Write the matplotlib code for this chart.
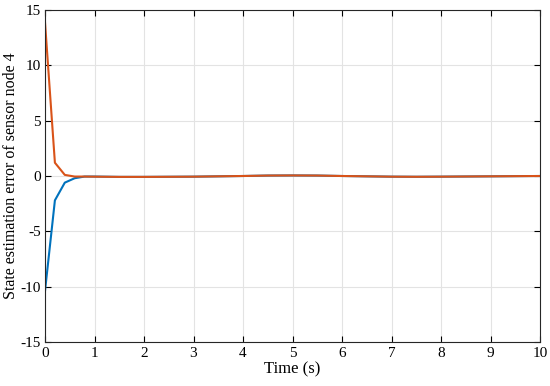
import numpy as np
import matplotlib
matplotlib.use("Agg")
import matplotlib.pyplot as plt

plt.rcParams['font.family'] = ['Liberation Serif', 'DejaVu Serif']
plt.rcParams['axes.unicode_minus'] = False

t = [0, 0.2, 0.4, 0.6, 0.8, 1.0, 1.5, 2, 3, 4, 4.5, 5, 5.5, 6, 7, 7.5, 8, 9, 10]
err_blue = [-10.4, -2.2, -0.6, -0.2, -0.05, -0.05, -0.08, -0.08, -0.06, 0.0, 0.04, 0.05, 0.04, 0.0, -0.06, -0.07, -0.06, -0.03, 0.0]
err_orange = [13.9, 1.2, 0.1, -0.05, -0.05, -0.06, -0.08, -0.08, -0.06, 0.0, 0.04, 0.05, 0.04, 0.0, -0.06, -0.07, -0.06, -0.03, 0.0]

fig = plt.figure(figsize=(5.5, 3.86), dpi=100)
ax = fig.add_axes([45/550, 1 - 342/386, 495/550, 332/386])
ax.plot(t, err_blue, color='#0072BD', lw=1.5)
ax.plot(t, err_orange, color='#D95319', lw=1.5)

ax.set_xlim(0, 10)
ax.set_ylim(-15, 15)
ax.set_xticks(range(0, 11))
ax.set_yticks(range(-15, 16, 5))
ax.grid(True, color='#e3e3e3', lw=0.8)
ax.tick_params(direction='in', top=True, right=True, labelsize=11, length=4)
ax.tick_params(axis='y', pad=3)
for s in ax.spines.values():
    s.set_color('#262626')
    s.set_linewidth(0.8)
ax.set_xlabel('Time (s)', fontsize=12, labelpad=1)
ax.set_ylabel('State estimation error of sensor node 4', fontsize=11.5, labelpad=1)

fig.savefig('out.png', dpi=100)
